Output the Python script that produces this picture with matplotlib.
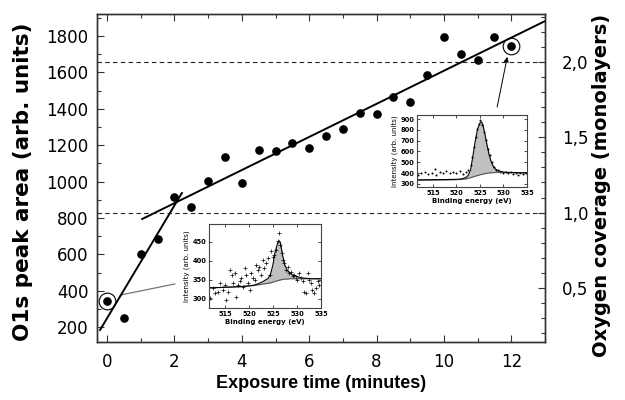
import matplotlib
matplotlib.use("Agg")
import matplotlib.pyplot as plt

# ---------------- main data ----------------
time_min = [0, 0.5, 1, 1.5, 2, 2.5, 3, 3.5, 4, 4.5, 5, 5.5, 6, 6.5, 7, 7.5, 8,
            8.5, 9, 9.5, 10, 10.5, 11, 11.5, 12]
o1s_area = [343, 250, 602, 684, 915, 860, 1003, 1135, 992, 1173, 1168, 1212, 1184,
            1250, 1289, 1377, 1371, 1465, 1437, 1586, 1795, 1701, 1668, 1795, 1745]

fit1_x = [-0.21, 2.22]
fit1_y = [184, 937]
fit2_x = [1.04, 13.0]
fit2_y = [794, 1882]

circled_x = [0, 12]
circled_y = [343, 1745]

ml_per_area = 1 / 829.0
coverage_lines = [1.0, 2.0]

connector_x = [0.39, 2.01]
connector_y = [376, 437]
arrow_start = (11.58, 1410)
arrow_end = (11.88, 1685)

# ---------------- inset 1 (t = 0) ----------------
sp1_E = [511.9, 512.6, 512.9, 513.6, 514.0, 514.7, 515.0, 515.3, 515.7, 516.0, 516.4,
         516.7, 517.1, 517.4, 517.7, 518.1, 518.4, 518.8, 519.1, 519.5, 519.8, 520.2,
         520.5, 520.8, 521.2, 521.5, 521.9, 522.2, 522.6, 522.9, 523.2, 523.6, 523.9,
         524.3, 524.6, 525.0, 525.3, 525.7, 526.0, 526.3, 526.5, 526.8, 527.0, 527.4,
         527.7, 528.1, 528.4, 528.7, 529.1, 529.4, 529.8, 530.1, 530.5, 530.8, 531.2,
         531.5, 531.8, 532.2, 532.5, 532.9, 533.2, 533.6, 533.9, 534.3, 534.6]
sp1_I = [302, 328, 315, 319, 341, 324, 337, 297, 319, 376, 363, 341, 368, 306, 337,
         346, 354, 332, 381, 363, 341, 324, 368, 354, 350, 389, 376, 385, 363, 403,
         381, 394, 407, 363, 425, 411, 416, 429, 451, 473, 442, 420, 403, 394, 376,
         385, 368, 372, 359, 363, 354, 350, 368, 354, 346, 319, 315, 368, 350, 341,
         324, 315, 328, 346, 337]
fit_E1 = [511.7, 514, 516, 518, 520, 521, 522, 523, 524, 524.5, 525, 525.5, 526,
          526.3, 526.6, 527, 527.5, 528, 528.5, 529, 530, 531, 532, 533, 535]
tot1 = [329, 330, 331, 332, 334, 336, 340, 346, 354, 365, 390, 425, 448, 453, 446,
        415, 388, 375, 368, 364, 359, 355, 354, 353, 353]
bg1 = [329, 330, 331, 332, 334, 335, 337, 339, 341, 342, 344, 346, 348, 349, 350,
       351, 352, 352, 353, 353, 353, 353, 353, 353, 353]

# ---------------- inset 2 (t = 12) ----------------
sp2_E = [511.8, 512.5, 513.2, 513.9, 514.7, 515.4, 515.7, 516.4, 517.1, 517.8, 518.6,
         519.3, 520.0, 520.7, 521.4, 522.1, 522.5, 523.0, 523.4, 523.7, 524.1, 524.4,
         524.8, 525.1, 525.5, 525.8, 526.2, 526.6, 527.1, 527.5, 527.9, 528.3, 528.8,
         529.3, 529.9, 530.5, 531.0, 531.5, 532.0, 532.6, 533.1, 533.6, 534.2, 534.7]
sp2_I = [383, 397, 411, 391, 402, 442, 383, 411, 397, 420, 402, 411, 397, 417, 391,
         411, 425, 471, 548, 640, 733, 810, 856, 887, 841, 779, 702, 625, 564, 502,
         456, 432, 425, 411, 402, 411, 397, 411, 391, 402, 383, 402, 391, 402]
fit_E2 = [511.6, 514, 516, 518, 520, 521, 522, 522.5, 523, 523.5, 524, 524.5, 525,
          525.3, 525.6, 526, 526.5, 527, 527.5, 528, 528.5, 529, 530, 531, 532, 533, 535]
tot2 = [338, 339, 340, 341, 343, 346, 358, 380, 430, 560, 700, 810, 865, 875, 850,
        770, 660, 560, 490, 450, 430, 420, 410, 407, 405, 404, 403]
bg2 = [335, 336, 337, 338, 340, 342, 347, 352, 358, 365, 372, 378, 384, 388, 391,
       395, 399, 402, 404, 405, 406, 406, 406, 405, 405, 404, 403]

x_ticks = [0, 2, 4, 6, 8, 10, 12]
y_ticks = [200, 400, 600, 800, 1000, 1200, 1400, 1600, 1800]
cov_ticks = [0.5, 1.0, 1.5, 2.0]
cov_labels = ["0,5", "1,0", "1,5", "2,0"]
inset_xticks = [515, 520, 525, 530, 535]
inset1_yticks = [300, 350, 400, 450]
inset2_yticks = [300, 400, 500, 600, 700, 800, 900]

# ---------------- figure ----------------
fig = plt.figure(figsize=(6.25, 4.0), dpi=100)
ax = fig.add_axes([97 / 625, 1 - 342 / 400, 448 / 625, 328 / 400])
ylim = (118, 1921)
ax.set_xlim(-0.3, 13.0)
ax.set_ylim(*ylim)

ax.plot(fit1_x, fit1_y, color="black", lw=1.4, zorder=3)
ax.plot(fit2_x, fit2_y, color="black", lw=1.4, zorder=3)
ax.plot(time_min, o1s_area, "o", color="black", ms=5.2, zorder=4)
ax.plot(circled_x, circled_y, "o", mfc="none", mec="black", ms=12, mew=0.8, zorder=4)
ax.plot(connector_x, connector_y, color="#777777", lw=0.9, zorder=2)
ax.annotate("", xy=arrow_end, xytext=arrow_start,
            arrowprops=dict(arrowstyle="-|>", color="black", lw=0.7,
                            mutation_scale=7, shrinkA=0, shrinkB=0))

tick_font = {"family": "DejaVu Sans", "size": 12}
ax.set_xticks(x_ticks)
ax.set_yticks(y_ticks)
ax.set_xticklabels([str(v) for v in x_ticks], fontdict=tick_font)
ax.set_yticklabels([str(v) for v in y_ticks], fontdict=tick_font)
ax.set_xticks([v + 1 for v in x_ticks], minor=True)
ax.set_yticks([v + 100 for v in y_ticks], minor=True)
ax.tick_params(axis="both", which="both", direction="in", top=True, right=False,
               width=0.8, color="#333333")
ax.tick_params(axis="both", which="major", length=5)
ax.tick_params(axis="both", which="minor", length=3)
ax.tick_params(axis="x", pad=8)
ax.tick_params(axis="y", pad=6)
for s in ax.spines.values():
    s.set_linewidth(1.0)
    s.set_color("#333333")

ax.set_xlabel("Exposure time (minutes)", fontfamily="Liberation Sans",
              fontweight="bold", fontsize=13)
ax.xaxis.set_label_coords(0.5, -0.1)
ax.set_ylabel("O1s peak area (arb. units)", fontfamily="DejaVu Sans",
              fontweight="bold", fontsize=15.5)
ax.yaxis.set_label_coords(-0.143, 0.49)

ax2 = ax.twinx()
ax2.set_ylim(ylim[0] * ml_per_area, ylim[1] * ml_per_area)
for c in coverage_lines:
    ax2.axhline(c, color="#222222", lw=0.8, ls=(0, (4, 3)), zorder=1)
ax2.set_yticks(cov_ticks)
ax2.set_yticklabels(cov_labels, fontdict=tick_font)
ax2.set_yticks([0.2, 0.3, 0.4, 0.6, 0.7, 0.8, 0.9, 1.1, 1.2, 1.3, 1.4, 1.6, 1.7,
                1.8, 1.9, 2.1, 2.2, 2.3], minor=True)
ax2.tick_params(axis="y", which="both", direction="in", width=0.8, color="#333333", pad=12)
ax2.tick_params(axis="y", which="major", length=5)
ax2.tick_params(axis="y", which="minor", length=3)
ax2.set_ylabel("Oxygen coverage (monolayers)", fontfamily="DejaVu Sans",
               fontweight="bold", fontsize=14, rotation=90)
ax2.yaxis.set_label_coords(1.105, 0.478)
for s in ax2.spines.values():
    s.set_linewidth(1.0)
    s.set_color("#333333")


def make_inset(rect, E, I, fE, tot, bg, xlim, ylim_i, yticks, marker, ms):
    ia = fig.add_axes(rect)
    ia.fill_between(fE, bg, tot, color="#c0c0c0", lw=0)
    ia.plot(E, I, marker, color="black", ms=ms, mew=0.5, ls="none")
    ia.plot(fE, bg, color="#555555", lw=0.8)
    ia.plot(fE, tot, color="black", lw=0.8)
    ia.set_xlim(*xlim)
    ia.set_ylim(*ylim_i)
    ia.set_xticks(inset_xticks)
    ia.set_yticks(yticks)
    small = {"family": "DejaVu Sans", "size": 4.8, "weight": "bold"}
    ia.set_xticklabels([str(v) for v in inset_xticks], fontdict=small)
    ia.set_yticklabels([str(v) for v in yticks], fontdict=small)
    ia.tick_params(direction="in", length=2, width=0.5, top=True, right=True, pad=2)
    ia.set_xlabel("Binding energy (eV)", fontsize=5, fontweight="bold", labelpad=1.5)
    ia.set_ylabel("Intensity (arb. units)", fontsize=5, labelpad=1.5)
    for s in ia.spines.values():
        s.set_linewidth(0.8)
        s.set_color("#444444")
    return ia


make_inset([209 / 625, 1 - 308 / 400, 112 / 625, 84 / 400],
           sp1_E, sp1_I, fit_E1, tot1, bg1, (511.7, 535), (276, 497),
           inset1_yticks, "+", 3)
make_inset([417 / 625, 1 - 187 / 400, 110 / 625, 72 / 400],
           sp2_E, sp2_I, fit_E2, tot2, bg2, (511.6, 535), (272, 937),
           inset2_yticks, ".", 1.8)

fig.savefig("out.png", dpi=100)
